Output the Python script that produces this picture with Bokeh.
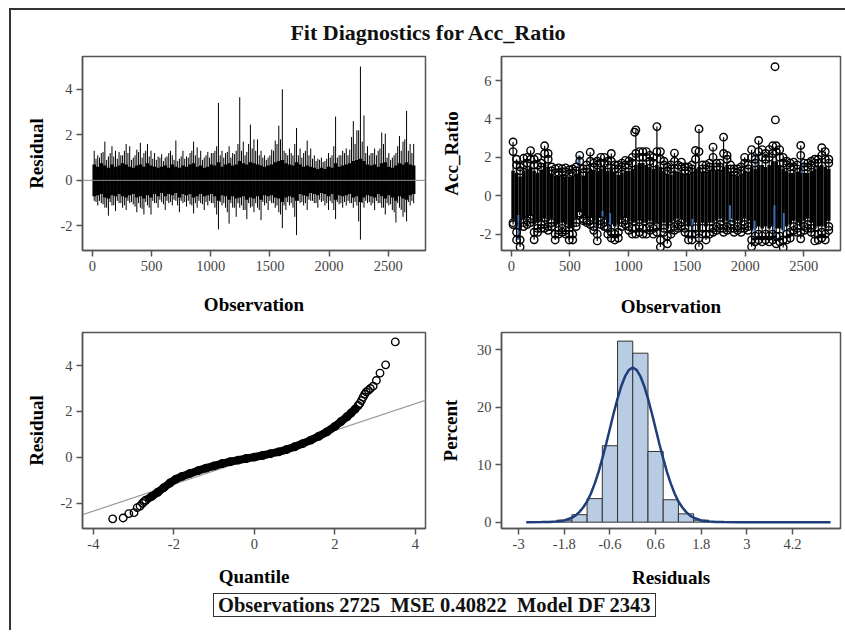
from bokeh.plotting import figure
from bokeh.layouts import column, row
from bokeh.models import Div, Span, Range1d, FixedTicker
from bokeh.embed import file_html
from bokeh.resources import INLINE

SERIF = "Liberation Serif"

# ---------------- data ----------------
title_text = "Fit Diagnostics for Acc_Ratio"
stats_text = "Observations 2725&nbsp;&nbsp;MSE 0.40822&nbsp;&nbsp;Model DF 2343"

# observation bins (every 30 observations) for the dense series
bin_obs = list(range(15, 2725, 30))
bin_obs2 = list(range(30, 2725, 30))

# Residual by observation: extreme needles per bin
resid_hi = [1.30, 1.10, 1.20, 1.70, 1.05, 1.50, 1.30, 1.25, 1.10, 1.60,
            1.50, 1.00, 1.35, 1.65, 1.20, 1.60, 1.30, 1.20, 1.05, 1.15,
            1.00, 1.20, 1.10, 1.75, 0.95, 1.30, 1.05, 1.20, 1.70, 1.45,
            1.30, 1.00, 1.25, 1.20, 1.30, 3.40, 1.30, 1.20, 1.50, 1.20,
            1.30, 3.65, 1.70, 1.25, 2.45, 1.80, 1.80, 1.30, 1.10, 1.00,
            1.35, 1.75, 2.40, 4.00, 1.20, 1.40, 1.10, 2.30, 1.40, 1.20,
            1.75, 1.40, 1.10, 0.95, 1.00, 0.85, 1.20, 1.10, 2.80, 1.10,
            1.30, 1.40, 1.35, 2.60, 2.20, 5.00, 2.85, 1.50, 1.20, 1.40,
            1.30, 2.10, 2.05, 1.20, 1.00, 1.20, 1.95, 1.70, 3.05, 1.60,
            1.60]
resid_lo = [-0.90, -1.10, -1.00, -1.20, -1.55, -1.10, -1.35, -1.00, -1.20, -1.30,
            -1.00, -1.05, -1.40, -1.20, -1.50, -1.10, -1.50, -1.00, -1.20, -0.95,
            -1.30, -1.00, -1.10, -0.90, -1.40, -1.00, -1.15, -1.05, -1.45, -1.20,
            -1.00, -1.30, -1.10, -1.00, -1.20, -2.15, -1.10, -1.20, -1.90, -1.20,
            -1.60, -1.20, -1.30, -1.70, -1.20, -1.40, -1.20, -1.75, -1.10, -1.30,
            -1.00, -1.20, -1.40, -2.10, -1.30, -1.10, -1.20, -2.40, -1.00, -1.10,
            -1.30, -0.90, -1.00, -1.20, -0.95, -1.10, -1.30, -1.00, -1.70, -1.05,
            -1.20, -1.10, -1.00, -1.20, -1.10, -2.60, -1.20, -1.00, -1.10, -1.30,
            -1.00, -1.20, -1.50, -1.10, -1.30, -1.85, -1.20, -1.60, -1.80, -1.10,
            -1.00]
# second-level needles between the bins
resid_hi2 = [0.95, 1.00, 1.25, 0.90, 1.20, 1.05, 0.95, 1.10, 1.30, 1.20,
             0.90, 1.10, 1.25, 1.00, 1.30, 1.05, 0.95, 0.90, 1.00, 0.85,
             1.05, 1.30, 0.90, 0.85, 1.05, 0.95, 1.00, 1.30, 1.10, 1.00,
             0.90, 1.10, 1.00, 1.20, 1.50, 1.10, 1.00, 1.25, 1.00, 1.15,
             1.60, 1.30, 1.10, 1.60, 1.40, 1.30, 1.10, 1.00, 0.90, 1.10,
             1.30, 1.60, 1.80, 1.30, 1.10, 1.20, 1.60, 1.10, 1.00, 1.30,
             1.10, 0.95, 0.85, 0.90, 0.80, 0.95, 1.00, 1.50, 1.00, 1.10,
             1.20, 1.10, 1.90, 1.60, 2.20, 1.70, 1.20, 1.10, 1.20, 1.10,
             1.40, 1.60, 1.00, 0.90, 1.10, 1.50, 1.30, 1.80, 1.30, 1.20]
resid_lo2 = [-0.95, -0.90, -1.05, -1.20, -0.95, -1.10, -0.90, -1.00, -1.10, -0.90,
             -0.95, -1.15, -1.00, -1.25, -0.95, -1.20, -0.90, -1.00, -0.85, -1.05,
             -0.90, -0.95, -0.85, -1.10, -0.90, -0.95, -0.90, -1.10, -1.00, -0.90,
             -1.05, -0.95, -0.90, -1.00, -1.50, -0.95, -1.00, -1.40, -1.00, -1.20,
             -1.00, -1.10, -1.30, -1.00, -1.15, -1.00, -1.30, -0.95, -1.00, -0.90,
             -1.00, -1.10, -1.50, -1.10, -0.95, -1.00, -1.60, -0.90, -0.95, -1.00,
             -0.85, -0.90, -1.00, -0.85, -0.90, -1.00, -0.90, -1.30, -0.95, -1.00,
             -0.95, -0.90, -1.00, -0.95, -1.80, -1.00, -0.90, -0.95, -1.00, -0.90,
             -1.00, -1.20, -1.00, -1.05, -1.40, -1.00, -1.30, -1.40, -0.95, -0.90]
# dense core of the residual needles, per bin
resid_core_hi = [0.70, 0.60, 0.75, 0.65, 0.55, 0.70, 0.60, 0.65, 0.75, 0.70,
                 0.60, 0.55, 0.65, 0.70, 0.60, 0.75, 0.65, 0.60, 0.55, 0.60,
                 0.65, 0.55, 0.70, 0.60, 0.55, 0.65, 0.60, 0.70, 0.75, 0.60,
                 0.65, 0.55, 0.60, 0.70, 0.65, 0.80, 0.60, 0.70, 0.75, 0.65,
                 0.70, 0.85, 0.75, 0.70, 0.80, 0.75, 0.70, 0.65, 0.60, 0.65,
                 0.70, 0.80, 0.85, 0.90, 0.75, 0.70, 0.65, 0.80, 0.70, 0.60,
                 0.65, 0.60, 0.55, 0.50, 0.55, 0.50, 0.60, 0.55, 0.75, 0.60,
                 0.65, 0.70, 0.75, 0.85, 0.90, 0.95, 0.85, 0.70, 0.65, 0.70,
                 0.60, 0.75, 0.80, 0.60, 0.55, 0.65, 0.75, 0.70, 0.80, 0.70,
                 0.65]
resid_core_lo = [-0.70, -0.65, -0.60, -0.75, -0.80, -0.65, -0.70, -0.60, -0.70, -0.75,
                 -0.65, -0.60, -0.75, -0.70, -0.80, -0.65, -0.75, -0.60, -0.70, -0.55,
                 -0.70, -0.60, -0.65, -0.55, -0.75, -0.60, -0.65, -0.60, -0.75, -0.70,
                 -0.60, -0.70, -0.65, -0.60, -0.70, -0.90, -0.65, -0.70, -0.85, -0.70,
                 -0.80, -0.75, -0.70, -0.85, -0.75, -0.80, -0.70, -0.85, -0.65, -0.70,
                 -0.65, -0.75, -0.80, -0.95, -0.75, -0.70, -0.75, -0.90, -0.60, -0.65,
                 -0.70, -0.55, -0.60, -0.65, -0.55, -0.60, -0.70, -0.60, -0.85, -0.65,
                 -0.70, -0.65, -0.60, -0.75, -0.70, -0.95, -0.75, -0.65, -0.70, -0.75,
                 -0.60, -0.70, -0.80, -0.65, -0.75, -0.90, -0.70, -0.80, -0.85, -0.65,
                 -0.60]

# Acc_Ratio by observation: observed values per bin (extreme, second level, dense core)
acc_hi = [2.80, 1.90, 1.50, 1.95, 2.00, 2.35, 1.90, 2.00, 1.70, 2.60,
          2.20, 1.50, 1.40, 1.45, 1.40, 1.45, 1.35, 1.40, 1.50, 2.10,
          1.40, 1.60, 2.27, 1.70, 1.80, 2.00, 2.00, 1.80, 2.20, 1.60,
          1.60, 1.70, 1.84, 1.80, 2.00, 3.43, 2.30, 2.30, 2.30, 2.10,
          2.00, 3.60, 2.30, 1.80, 1.50, 1.60, 2.22, 1.60, 1.75, 1.50,
          1.50, 1.60, 2.36, 3.48, 1.60, 1.60, 1.70, 2.53, 1.70, 1.70,
          3.05, 2.10, 1.60, 1.40, 1.40, 1.50, 2.00, 1.60, 2.40, 1.90,
          2.88, 2.40, 2.20, 2.40, 2.60, 2.60, 2.40, 2.00, 1.80, 1.70,
          1.75, 1.60, 2.62, 1.70, 1.70, 1.80, 1.90, 1.90, 2.50, 2.30,
          1.90]
acc_hi2 = [2.30, 1.60, 1.30, 1.60, 1.70, 1.90, 1.60, 1.60, 1.50, 2.20,
           1.90, 1.30, 1.20, 1.20, 1.25, 1.25, 1.15, 1.20, 1.30, 1.80,
           1.20, 1.40, 1.80, 1.50, 1.60, 1.70, 1.70, 1.60, 1.80, 1.40,
           1.40, 1.50, 1.60, 1.60, 1.70, 2.20, 2.00, 2.00, 2.00, 1.80,
           1.70, 2.30, 1.90, 1.60, 1.30, 1.40, 1.80, 1.40, 1.50, 1.30,
           1.30, 1.40, 1.90, 2.30, 1.40, 1.40, 1.50, 2.00, 1.50, 1.50,
           2.20, 1.90, 1.40, 1.25, 1.20, 1.30, 1.70, 1.40, 2.00, 1.70,
           2.30, 2.00, 1.90, 2.00, 2.20, 2.30, 2.00, 1.70, 1.60, 1.50,
           1.50, 1.40, 2.10, 1.50, 1.50, 1.60, 1.70, 1.70, 2.10, 1.90,
           1.70]
acc_core_hi = [1.30, 1.20, 1.00, 1.30, 1.40, 1.50, 1.30, 1.20, 1.30, 1.70,
               1.50, 1.10, 1.00, 1.00, 1.05, 1.00, 0.95, 1.00, 1.10, 1.40,
               1.00, 1.20, 1.40, 1.30, 1.30, 1.40, 1.50, 1.30, 1.40, 1.20,
               1.10, 1.20, 1.30, 1.30, 1.40, 1.60, 1.70, 1.70, 1.60, 1.50,
               1.40, 1.60, 1.50, 1.30, 1.10, 1.10, 1.30, 1.20, 1.20, 1.10,
               1.10, 1.20, 1.40, 1.50, 1.20, 1.20, 1.30, 1.50, 1.30, 1.30,
               1.50, 1.60, 1.20, 1.10, 1.00, 1.10, 1.30, 1.20, 1.50, 1.40,
               1.60, 1.60, 1.50, 1.60, 1.80, 1.80, 1.60, 1.40, 1.30, 1.20,
               1.20, 1.20, 1.50, 1.20, 1.20, 1.30, 1.40, 1.50, 1.60, 1.50,
               1.40]
acc_core_lo = [-1.20, -1.60, -1.80, -1.20, -1.10, -1.00, -1.50, -1.40, -1.30, -1.20,
               -1.30, -1.20, -1.60, -1.50, -1.40, -1.50, -1.70, -1.70, -1.20, -0.80,
               -1.00, -1.10, -1.10, -1.30, -1.60, -1.10, -1.20, -1.40, -1.50, -1.60,
               -1.50, -1.20, -1.10, -1.30, -1.40, -1.40, -1.30, -1.40, -1.40, -1.30,
               -1.40, -1.40, -1.80, -1.40, -1.70, -1.40, -1.30, -1.20, -1.20, -1.40,
               -1.60, -1.60, -1.40, -1.80, -1.40, -1.60, -1.40, -1.40, -1.30, -1.20,
               -1.40, -1.30, -1.20, -1.40, -1.30, -1.40, -1.20, -1.30, -1.80, -1.70,
               -1.60, -1.70, -1.60, -1.70, -1.60, -1.70, -1.70, -1.80, -1.60, -1.50,
               -1.30, -1.40, -1.60, -1.30, -1.20, -1.40, -1.70, -1.60, -1.60, -1.60,
               -1.30]
acc_lo2 = [-1.40, -1.90, -2.30, -1.40, -1.30, -1.20, -1.90, -1.70, -1.50, -1.50,
           -1.60, -1.40, -2.00, -1.80, -1.70, -1.80, -2.00, -2.00, -1.40, -0.90,
           -1.20, -1.30, -1.30, -1.60, -2.00, -1.30, -1.40, -1.70, -1.90, -2.00,
           -1.90, -1.40, -1.30, -1.60, -1.70, -1.70, -1.60, -1.70, -1.70, -1.60,
           -1.70, -1.60, -2.30, -1.70, -2.10, -1.70, -1.60, -1.50, -1.40, -1.70,
           -2.00, -2.00, -1.70, -2.20, -1.70, -2.00, -1.70, -1.70, -1.60, -1.50,
           -1.70, -1.60, -1.50, -1.70, -1.60, -1.70, -1.50, -1.60, -2.30, -2.10,
           -2.00, -2.10, -2.00, -2.10, -2.00, -2.10, -2.10, -2.30, -2.00, -1.90,
           -1.60, -1.70, -1.90, -1.60, -1.50, -1.70, -2.00, -2.00, -1.90, -2.00,
           -1.60]
acc_lo = [-1.50, -2.30, -2.67, -1.60, -1.50, -1.40, -2.29, -1.90, -1.70, -1.70,
          -1.80, -1.60, -2.30, -2.00, -1.90, -2.00, -2.30, -2.30, -1.60, -1.00,
          -1.30, -1.40, -1.50, -1.80, -2.35, -1.50, -1.60, -2.00, -2.20, -2.30,
          -2.20, -1.60, -1.50, -1.80, -2.00, -2.00, -1.90, -2.00, -2.00, -1.80,
          -2.00, -1.90, -2.67, -1.90, -2.50, -2.00, -1.80, -1.70, -1.60, -1.90,
          -2.30, -2.30, -2.00, -2.65, -2.00, -2.30, -2.00, -1.90, -1.80, -1.70,
          -1.90, -1.80, -1.70, -1.90, -1.80, -1.90, -1.70, -1.80, -2.65, -2.40,
          -2.30, -2.40, -2.30, -2.40, -2.30, -2.50, -2.40, -2.70, -2.30, -2.20,
          -1.80, -1.90, -2.24, -1.80, -1.70, -1.90, -2.35, -2.30, -2.20, -2.30,
          -1.80]
acc_out_obs = [1055, 2255, 2258]
acc_out_val = [3.31, 6.72, 3.95]
# visible pieces of the blue predicted-value series
blue_obs = [60, 575, 780, 845, 1550, 1870, 2080, 2105, 2250, 2330, 2480]
blue_y0 = [-2.30, 1.50, -1.80, -1.70, -2.20, -1.50, -2.40, 1.50, -2.30, -1.90, 1.20]
blue_y1 = [-1.00, 2.10, -0.80, -0.90, -1.20, -0.50, -1.30, 2.20, -0.50, -0.90, 1.90]

# Q-Q plot of residuals
qq_band_x = [-2.70, -2.55, -2.40, -2.25, -2.10, -1.95, -1.80, -1.60, -1.40, -1.20, -1.00,
             -0.80, -0.60, -0.40, -0.20, 0.00, 0.20, 0.40, 0.60, 0.80, 1.00, 1.20, 1.40,
             1.60, 1.80, 2.00, 2.15, 2.30, 2.40, 2.50, 2.58]
qq_band_y = [-1.87, -1.70, -1.52, -1.32, -1.12, -0.95, -0.83, -0.70, -0.58, -0.47, -0.37,
             -0.27, -0.19, -0.12, -0.05, 0.01, 0.08, 0.16, 0.24, 0.34, 0.46, 0.60, 0.75,
             0.92, 1.11, 1.35, 1.56, 1.77, 1.93, 2.10, 2.26]
qq_tail_x = [-3.52, -3.26, -3.12, -2.99, -2.91, -2.84, -2.78, -2.74,
             2.62, 2.66, 2.70, 2.74, 2.78, 2.83, 2.88, 2.95, 3.03, 3.12, 3.26, 3.50]
qq_tail_y = [-2.68, -2.64, -2.45, -2.41, -2.19, -2.12, -2.00, -1.93,
             2.35, 2.48, 2.62, 2.75, 2.85, 2.92, 3.00, 3.10, 3.35, 3.67, 4.03, 5.03]
qq_ref_x = [-4.3, 4.3]
qq_ref_y = [-2.52, 2.52]

# Histogram of residuals (percent) with normal curve
hist_edges = [-2.0, -1.6, -1.2, -0.8, -0.4, 0.0, 0.4, 0.8, 1.2, 1.6, 2.0]
hist_pct = [0.35, 1.3, 4.1, 13.3, 31.5, 29.4, 12.3, 3.9, 1.45, 0.35]
curve_x = [-2.8, -2.4, -2.2, -2.0, -1.8, -1.6, -1.5, -1.4, -1.3, -1.2, -1.1, -1.0, -0.9,
           -0.8, -0.7, -0.6, -0.5, -0.4, -0.3, -0.2, -0.1, 0.0, 0.1, 0.2, 0.3, 0.4, 0.5,
           0.6, 0.7, 0.8, 0.9, 1.0, 1.1, 1.2, 1.3, 1.4, 1.5, 1.6, 1.8, 2.0, 2.2, 2.4,
           2.8, 5.2]
curve_y = [0.0, 0.01, 0.03, 0.10, 0.30, 0.77, 1.18, 1.8, 2.6, 3.6, 5.0, 6.7, 8.7,
           11.1, 13.6, 16.3, 19.0, 21.5, 23.7, 25.4, 26.5, 26.9, 26.5, 25.4, 23.7, 21.5, 19.0,
           16.3, 13.6, 11.1, 8.7, 6.7, 5.0, 3.6, 2.6, 1.8, 1.18, 0.77, 0.30, 0.10, 0.03, 0.01,
           0.0, 0.0]

obs_ticks = [0, 500, 1000, 1500, 2000, 2500]
resid_ticks = [-2, 0, 2, 4]
acc_ticks = [-2, 0, 2, 4, 6]
qq_ticks = [-4, -2, 0, 2, 4]
hist_xticks = [-3, -1.8, -0.6, 0.6, 1.8, 3, 4.2]
hist_yticks = [0, 10, 20, 30]


def style(p, xticks, yticks, xlabel, ylabel, xstand, ystand):
    p.outline_line_color = "#555555"
    p.outline_line_width = 1.5
    p.xgrid.visible = False
    p.ygrid.visible = False
    p.background_fill_color = "white"
    p.border_fill_color = "white"
    for ax in (p.xaxis[0], p.yaxis[0]):
        ax.axis_line_color = "#555555"
        ax.axis_line_width = 1.5
        ax.major_tick_line_color = "#555555"
        ax.major_tick_line_width = 1.5
        ax.major_tick_out = 6
        ax.major_tick_in = 0
        ax.minor_tick_line_color = None
        ax.major_label_text_font = SERIF
        ax.major_label_text_font_size = "14.5px"
        ax.major_label_text_color = "#444444"
        ax.major_label_standoff = 4
        ax.axis_label_text_font = SERIF
        ax.axis_label_text_font_style = "bold"
        ax.axis_label_text_font_size = "19px"
        ax.axis_label_text_color = "black"
    p.xaxis.ticker = FixedTicker(ticks=xticks)
    p.yaxis.ticker = FixedTicker(ticks=yticks)
    p.xaxis.major_label_overrides = {t: "%g" % t for t in xticks}
    p.yaxis.major_label_overrides = {t: "%g" % t for t in yticks}
    p.xaxis.axis_label = xlabel
    p.yaxis.axis_label = ylabel
    p.xaxis.axis_label_standoff = xstand
    p.yaxis.axis_label_standoff = ystand


common = dict(output_backend="svg", toolbar_location=None, min_border_left=71,
              min_border_right=5)

# ---- panel 1: residual needles ----
p1 = figure(width=419, height=274, min_border_top=10, min_border_bottom=63,
            x_range=Range1d(-84, 2815), y_range=Range1d(-3.08, 5.44), **common)
style(p1, obs_ticks, resid_ticks, "Observation", "Residual", 20, 10)
p1.add_layout(Span(location=0, dimension="width", line_color="#8a8a8a", line_width=1))
p1.vbar(x=bin_obs, width=30, bottom=resid_core_lo, top=resid_core_hi,
        fill_color="black", line_color=None)
needle = dict(line_color="black", line_width=1.0)
p1.segment(x0=bin_obs, y0=[0] * len(bin_obs), x1=bin_obs, y1=resid_hi, **needle)
p1.segment(x0=bin_obs, y0=[0] * len(bin_obs), x1=bin_obs, y1=resid_lo, **needle)
p1.segment(x0=bin_obs2, y0=[0] * len(bin_obs2), x1=bin_obs2, y1=resid_hi2, **needle)
p1.segment(x0=bin_obs2, y0=[0] * len(bin_obs2), x1=bin_obs2, y1=resid_lo2, **needle)

# ---- panel 2: Acc_Ratio by observation ----
p2 = figure(width=415, height=274, min_border_top=10, min_border_bottom=70,
            x_range=Range1d(-84, 2815), y_range=Range1d(-2.85, 7.25), **common)
style(p2, obs_ticks, acc_ticks, "Observation", "Acc_Ratio", 22, 14)
p2.vbar(x=bin_obs, width=30, bottom=acc_core_lo, top=acc_core_hi,
        fill_color="black", line_color=None)
p2.segment(x0=bin_obs, y0=acc_lo, x1=bin_obs, y1=acc_hi, line_color="black", line_width=1.2)
p2.segment(x0=blue_obs, y0=blue_y0, x1=blue_obs, y1=blue_y1, line_color="#3b6db3", line_width=2)
circ = dict(marker="circle", size=7.5, fill_color=None, line_color="black", line_width=1.4)
for vals in (acc_hi, acc_hi2, acc_lo2, acc_lo):
    p2.scatter(bin_obs, vals, **circ)
p2.scatter(acc_out_obs, acc_out_val, **circ)

# ---- panel 3: Q-Q plot ----
p3 = figure(width=419, height=270, min_border_top=12, min_border_bottom=58,
            x_range=Range1d(-4.27, 4.25), y_range=Range1d(-3.1, 5.44), **common)
style(p3, qq_ticks, resid_ticks, "Quantile", "Residual", 14, 10)
p3.line(qq_ref_x, qq_ref_y, line_color="#9a9a9a", line_width=1.2)
p3.line(qq_band_x, qq_band_y, line_color="black", line_width=8)
p3.scatter(qq_band_x, qq_band_y, **circ)
p3.scatter(qq_tail_x, qq_tail_y, **circ)

# ---- panel 4: histogram ----
p4 = figure(width=415, height=270, min_border_top=12, min_border_bottom=62,
            x_range=Range1d(-3.45, 5.46), y_range=Range1d(-1.1, 33.0), **common)
style(p4, hist_xticks, hist_yticks, "Residuals", "Percent", 15, 13)
p4.quad(left=hist_edges[:-1], right=hist_edges[1:], top=hist_pct, bottom=0,
        fill_color="#b8cce4", line_color="#333333", line_width=1)
p4.line(curve_x, curve_y, line_color="#1f3d78", line_width=2.5)

title = Div(text='<div style="width:834px;text-align:center;font-family:\'Liberation Serif\';'
                 'font-weight:bold;font-size:22px;line-height:26px;padding-top:10px;color:#111;">'
                 + title_text + '</div>', width=834, height=36, margin=0)
stats = Div(text='<div style="margin-left:202px;margin-top:3px;display:inline-block;'
                 'border:1.5px solid #333;padding:0 4px;font-family:\'Liberation Serif\';'
                 'font-weight:bold;font-size:20.5px;line-height:22px;color:#111;white-space:nowrap;">'
                 + stats_text + '</div>', width=834, height=40, margin=0)

layout = column(title, row(p1, p2, spacing=0), row(p3, p4, spacing=0), stats,
                spacing=0, margin=(8, 0, 0, 9),
                styles={"border-left": "2px solid #333333", "border-top": "2px solid #333333"})

open("out.html", "w").write(file_html(layout, INLINE, title="Fit Diagnostics"))
